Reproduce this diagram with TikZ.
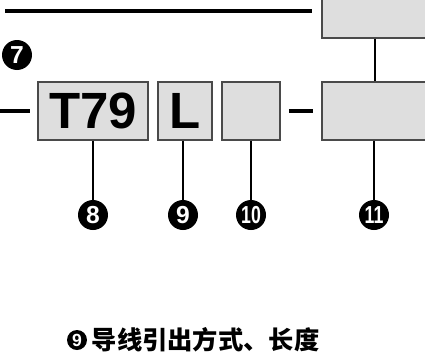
\documentclass[tikz,border=0pt]{standalone}
\usepackage{fontspec}
\setmainfont{Liberation Sans}
\newfontfamily\cjk{Noto Sans CJK SC}
\usetikzlibrary{positioning,calc}
\definecolor{boxgray}{HTML}{DEDEDE}
\definecolor{edgegray}{HTML}{4A4A4A}

\begin{document}
\begin{tikzpicture}[x=0.02cm,y=-0.02cm,
  codebox/.style={draw=edgegray,line width=1.1pt,fill=boxgray,minimum height=1.16cm,inner sep=0pt,font=\bfseries\fontsize{29}{29}\selectfont},
  num/.style={circle,fill=black,text=white,inner sep=0pt,minimum size=0.6cm,font=\bfseries\fontsize{14}{14}\selectfont},
  lead/.style={line width=1.6pt},
  bar/.style={line width=2.4pt}]
\clip (0,0) rectangle (425,352);
% code boxes
\node[codebox,minimum width=2.2cm] (series) at (93,111) {T79};
\node[codebox,minimum width=1.08cm] (wire) at (185,111) {L};
\node[codebox,minimum width=1.16cm] (blank) at (251,111) {};
\node[codebox,minimum width=2.2cm,anchor=west] (option) at (321,111) {};
\node[codebox,minimum width=2.2cm,anchor=west] (upper) at (321,9) {};
\draw[lead] (upper.south -| 375,0) -- (option.north -| 375,0);
% bars
\coordinate (topstart) at (5,11);
\coordinate (leftstart) at (0,111);
\draw[bar] (topstart) -- (topstart -| 312,0);
\draw[bar] (leftstart) -- (30,111);
\draw[bar,shorten <=0.16cm,shorten >=0.16cm] (blank.east) -- (option.west);
% numbers
\node[num] (n7) at (17,55) {7};
\node[num] (n8) at (93,215) {8};
\node[num] (n9) at (183,215) {9};
\node[num] (n10) at (251,215) {\scalebox{0.72}[1]{10}};
\node[num] (n11) at (374,215) {\scalebox{0.72}[1]{11}};
\draw[lead] (series.south -| n8) -- (n8);
\draw[lead] (wire.south -| n9) -- (n9);
\draw[lead] (blank.south) -- (n10);
\draw[lead] (option.south -| n11) -- (n11);
% caption
\node[num,minimum size=0.4cm,font=\bfseries\fontsize{10}{10}\selectfont] (c9) at (77,340) {9};
\node[right=0.08cm of c9,inner sep=0pt,font=\cjk\bfseries\fontsize{14.4}{14.4}\selectfont] (caption) {导线引出方式、长度};
\end{tikzpicture}
\end{document}
